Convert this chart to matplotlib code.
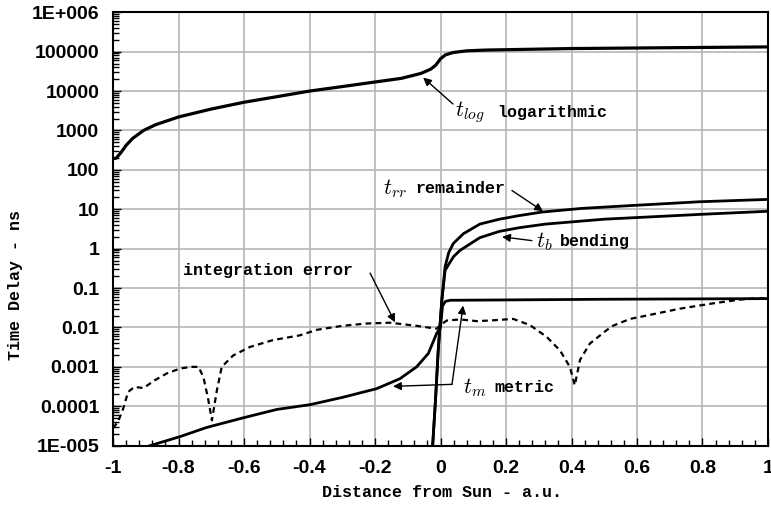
"""
time delay components vs distance from the Sun (log scale)
"""

import numpy as np
import matplotlib
matplotlib.use('Agg')
import matplotlib.pyplot as plt
from matplotlib.ticker import FixedLocator, MultipleLocator, LogLocator, NullFormatter

# data
x_log = [-1.0, -0.99, -0.975, -0.96, -0.94, -0.907, -0.87, -0.8, -0.7, -0.6, -0.5, -0.4,
         -0.3, -0.2, -0.12, -0.06, -0.03, -0.015, 0.0, 0.015, 0.038, 0.08, 0.14, 0.4, 0.7, 1.0]
t_log = [190, 200, 280, 420, 630, 1000, 1400, 2200, 3500, 5200, 7200, 10000,
         13000, 17000, 21000, 28000, 36000, 45000, 66000, 83000, 95000, 105000, 110000,
         120000, 126000, 132000]

x_err = [-1.0, -0.985, -0.969, -0.954, -0.935, -0.907, -0.872, -0.836, -0.795, -0.76, -0.739,
         -0.724, -0.71, -0.698, -0.683, -0.668, -0.633, -0.582, -0.511, -0.43, -0.378, -0.3,
         -0.225, -0.154, -0.073, -0.012, 0.0, 0.019, 0.06, 0.11, 0.15, 0.222, 0.273, 0.324,
         0.365, 0.395, 0.41, 0.426, 0.456, 0.507, 0.528, 0.579, 0.609, 0.731, 0.833, 0.915,
         0.95, 1.0]
err = [2.8e-5, 4.0e-5, 8.7e-5, 2.3e-4, 3.1e-4, 2.9e-4, 4.6e-4, 6.8e-4, 9.1e-4, 1.0e-3, 1.0e-3,
       5.5e-4, 1.6e-4, 4.4e-5, 2.5e-4, 1.0e-3, 1.95e-3, 3.2e-3, 4.8e-3, 6.3e-3, 8.7e-3, 1.1e-2,
       1.26e-2, 1.32e-2, 1.1e-2, 9.3e-3, 1.15e-2, 1.5e-2, 1.6e-2, 1.45e-2, 1.5e-2, 1.65e-2,
       1.15e-2, 5.8e-3, 2.6e-3, 1.0e-3, 3.4e-4, 1.5e-3, 3.9e-3, 8.5e-3, 1.12e-2, 1.65e-2,
       1.85e-2, 3.0e-2, 4.1e-2, 5.1e-2, 5.4e-2, 5.5e-2]

x_m = [-0.887, -0.795, -0.714, -0.602, -0.5, -0.398, -0.297, -0.195, -0.124, -0.073, -0.037,
       -0.012, 0.0, 0.006, 0.015, 0.03, 0.2, 0.5, 1.0]
t_m = [1.0e-5, 1.7e-5, 2.9e-5, 5.1e-5, 8.3e-5, 1.1e-4, 1.7e-4, 2.8e-4, 5.0e-4, 1.0e-3, 2.2e-3,
       7.0e-3, 1.0e-2, 3.5e-2, 4.6e-2, 4.9e-2, 5.0e-2, 5.2e-2, 5.4e-2]

x_rr = [-0.024, -0.015, -0.007, 0.004, 0.014, 0.025, 0.039, 0.05, 0.07, 0.12, 0.18, 0.24,
        0.31, 0.43, 0.55, 0.79, 1.0]
t_rr = [1e-5, 1.6e-4, 2.6e-3, 4.9e-2, 0.35, 0.79, 1.35, 1.66, 2.4, 4.2, 5.6, 6.9,
        8.5, 10.5, 12.0, 15.5, 17.8]

x_b = [-0.024, -0.015, -0.007, 0.004, 0.014, 0.025, 0.04, 0.06, 0.12, 0.18, 0.24, 0.32,
       0.5, 0.79, 1.0]
t_b = [1e-5, 1.6e-4, 2.6e-3, 4.9e-2, 0.28, 0.40, 0.63, 0.91, 1.9, 2.75, 3.4, 4.2,
       5.6, 7.4, 8.9]

x_ticks = [-1, -0.8, -0.6, -0.4, -0.2, 0, 0.2, 0.4, 0.6, 0.8, 1]
x_ticklabels = ['-1', '-0.8', '-0.6', '-0.4', '-0.2', '0', '0.2', '0.4', '0.6', '0.8', '1']
y_ticks = [1e6, 1e5, 1e4, 1e3, 1e2, 1e1, 1, 1e-1, 1e-2, 1e-3, 1e-4, 1e-5]
y_ticklabels = ['1E+006', '100000', '10000', '1000', '100', '10', '1', '0.1', '0.01',
                '0.001', '0.0001', '1E-005']

plt.rcParams['mathtext.fontset'] = 'cm'
tick_font = dict(family='Liberation Sans', weight='bold', size=14)
mono = dict(family='Liberation Mono', weight='bold', size=12)

fig = plt.figure(figsize=(7.71, 5.05), dpi=100)
ax = fig.add_axes([0.1466, 0.1175, 0.8495, 0.8582])

ax.plot(x_log, t_log, color='black', lw=2.3)
ax.plot(x_rr, t_rr, color='black', lw=2)
ax.plot(x_b, t_b, color='black', lw=2)
ax.plot(x_m, t_m, color='black', lw=2)
ax.plot(x_err, err, color='black', lw=1.6, ls=(0, (2.6, 1.9)))

ax.set_yscale('log')
ax.set_xlim(-1, 1)
ax.set_ylim(1e-5, 1e6)

ax.xaxis.set_major_locator(FixedLocator(x_ticks))
ax.set_xticklabels(x_ticklabels, fontdict=tick_font)
ax.xaxis.set_minor_locator(MultipleLocator(0.04))
ax.yaxis.set_major_locator(FixedLocator(y_ticks))
ax.set_yticklabels(y_ticklabels, fontdict=tick_font)
ax.yaxis.set_minor_locator(LogLocator(base=10, subs=np.arange(2, 10), numticks=50))
ax.yaxis.set_minor_formatter(NullFormatter())

ax.tick_params(which='both', direction='in', top=False, right=False, width=1)
ax.tick_params(which='major', length=6)
ax.tick_params(which='minor', length=4)
ax.tick_params(axis='y', pad=10)
ax.tick_params(axis='x', pad=10)

ax.grid(True, which='major', color='#b5b5b5', lw=1.2)
for s in ax.spines.values():
    s.set_linewidth(1.5)

ax.set_xlabel('Distance from Sun - a.u.', **mono)
ax.xaxis.set_label_coords(0.502, -0.09)
ax.set_ylabel('Time Delay - ns', **mono)
ax.yaxis.set_label_coords(-0.138, 0.37)

arrow = dict(arrowstyle='-|>', color='black', lw=1, mutation_scale=12, shrinkA=0, shrinkB=0)
msize = 16

# annotations: italic symbol + monospace word
ax.text(0.044, 2900, r'$t_{log}$', va='center', size=msize)
ax.text(0.172, 2900, 'logarithmic', va='center', **mono)
ax.annotate('', xy=(-0.053, 22000), xytext=(0.038, 4700), arrowprops=arrow)

ax.text(-0.176, 34, r'$t_{rr}$', va='center', size=msize)
ax.text(-0.078, 34, 'remainder', va='center', **mono)
ax.annotate('', xy=(0.313, 8.9), xytext=(0.218, 30), arrowprops=arrow)

ax.text(0.292, 1.55, r'$t_b$', va='center', size=msize)
ax.text(0.365, 1.55, 'bending', va='center', **mono)
ax.annotate('', xy=(0.188, 2.0), xytext=(0.279, 1.6), arrowprops=arrow)

ax.text(-0.786, 0.28, 'integration error', va='center', **mono)
ax.annotate('', xy=(-0.139, 0.0135), xytext=(-0.215, 0.24), arrowprops=arrow)

ax.text(0.069, 3.0e-4, r'$t_m$', va='center', size=msize)
ax.text(0.166, 3.0e-4, 'metric', va='center', **mono)
ax.annotate('', xy=(-0.145, 3.2e-4), xytext=(0.035, 3.6e-4), arrowprops=arrow)
ax.annotate('', xy=(0.069, 3.6e-2), xytext=(0.035, 3.6e-4), arrowprops=arrow)

fig.savefig('out.png', dpi=100)
